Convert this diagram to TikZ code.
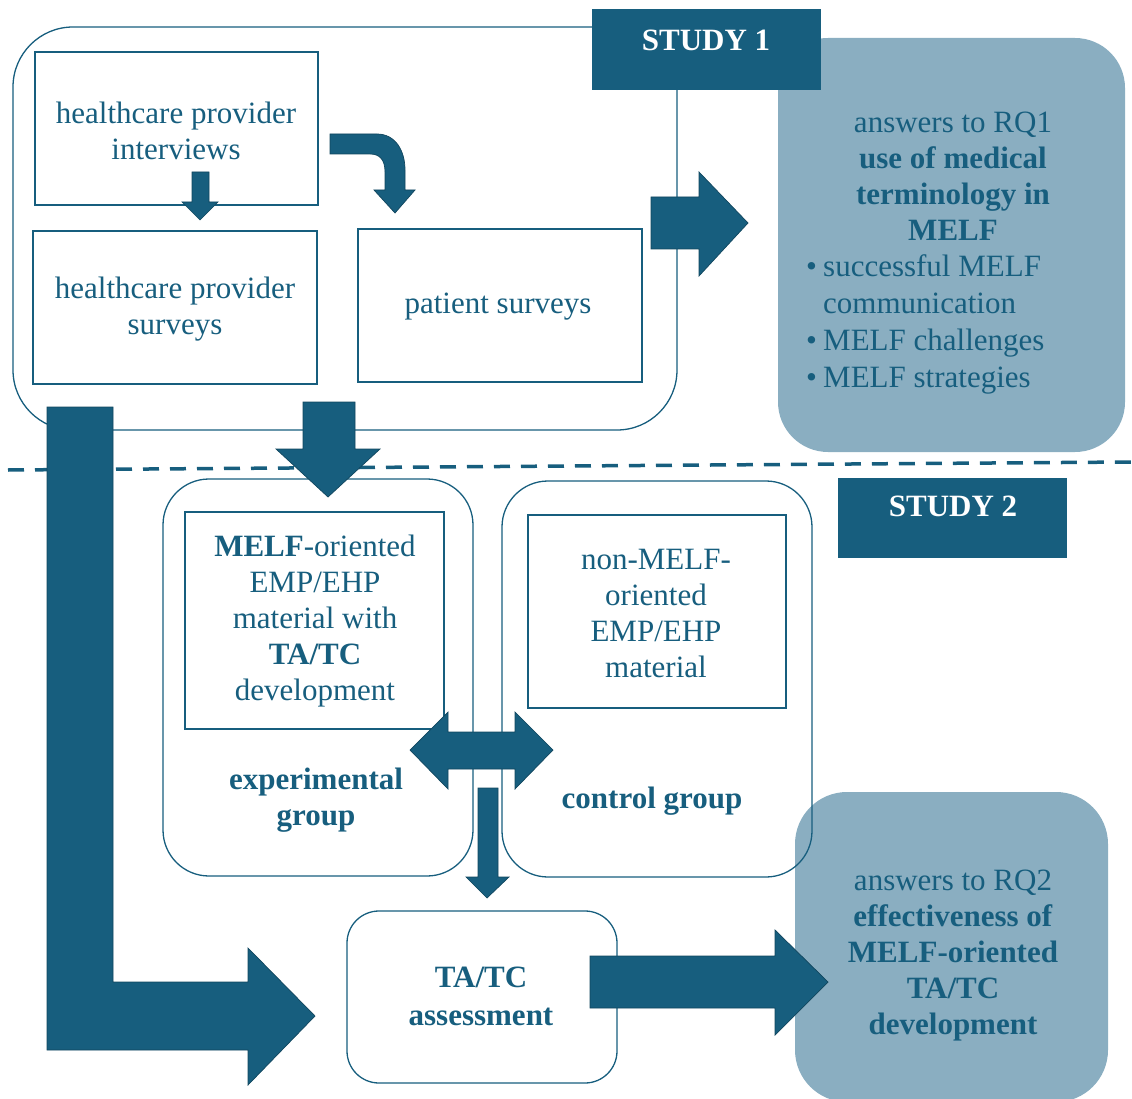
\documentclass[tikz,border=0pt]{standalone}
\usepackage{fontspec}
\setmainfont{Liberation Serif}
\definecolor{dk}{HTML}{175E7E}
\definecolor{lt}{HTML}{8AAEC1}
\newcommand{\bul}{\makebox[17pt][l]{\textbullet}}
\tikzset{
  box/.style={draw=dk, line width=1.3pt, text=dk, align=center, inner sep=0pt},
  lbox/.style={fill=lt, draw=none, text=dk, align=center, inner sep=0pt},
  tagbox/.style={fill=dk, draw=none, text=white, inner sep=0pt, font=\fontsize{31}{36}\selectfont\bfseries},
  txt/.style={text=dk, align=center, inner sep=0pt},
  blk/.style={fill=dk, draw=dk!75!black, line width=0.7pt, line join=miter},
}
\begin{document}
\begin{tikzpicture}[x=1pt,y=-1pt,font=\fontsize{31}{36}\selectfont]
\useasboundingbox (0,0) rectangle (1132,1099);
\clip (0,0) rectangle (1132,1099);

% ---- Study 1 frame
\node[box, rounded corners=60pt, minimum width=664pt, minimum height=403pt] (s1) at (345,228.5) {};

% RQ1 box
\node[lbox, rounded corners=50pt, minimum width=347pt, minimum height=414pt] (rq1) at (951.5,245) {};
\node[txt] (rq1h) at (953,176) {answers to RQ1\\\textbf{use of medical}\\\textbf{terminology in}\\\textbf{MELF}};
\node[txt, align=left, anchor=west, font=\fontsize{31}{37}\selectfont] (rq1b) at (806,324) {\bul successful MELF\\\hspace*{17pt}communication\\\bul MELF challenges\\\bul MELF strategies};

\node[tagbox, minimum width=229pt, minimum height=81pt] (tag1) at (706.5,49.5) {};
\node[text=white, inner sep=0pt, font=\fontsize{31}{36}\selectfont\bfseries] (tag1t) at (706,40) {STUDY 1};

\node[box, minimum width=283pt, minimum height=153pt] (hpi) at (176.5,128.5) {};
\node[txt] (hpit) at (176,131) {healthcare provider\\interviews};
\node[box, minimum width=284pt, minimum height=153pt] (hps) at (175,307.5) {};
\node[txt] (hpst) at (175,309) {healthcare provider\\surveys};
\node[box, minimum width=284pt, minimum height=153pt] (ps) at (500,305.5) {};
\node[txt] (pst) at (498,307) {patient surveys};

% small arrows
\draw[blk] (192,172) -- (209,172) -- (209,202) -- (218,202) -- (200,220) -- (182,202) -- (192,202) -- cycle;
\draw[blk] (330,134) -- (377,134) .. controls (395,134) and (405,150) .. (405,170) -- (405,190) -- (415,190) -- (395,213) -- (374,190) -- (385,190) -- (385,172) .. controls (385,160) and (380,154) .. (370,154) -- (330,154) -- cycle;

% big right arrow to RQ1
\draw[blk] (651,197) -- (699,197) -- (699,172) -- (748,223) -- (699,276) -- (699,249) -- (651,249) -- cycle;

% dashed separator
\draw[dk, line width=3.5pt, dash pattern=on 16pt off 11pt] (8,470) -- (1132,462);

% ---- Study 2
\node[tagbox, minimum width=229pt, minimum height=80pt] (tag2) at (952.5,518) {};
\node[text=white, inner sep=0pt, font=\fontsize{31}{36}\selectfont\bfseries] (tag2t) at (953,506) {STUDY 2};

\node[lbox, rounded corners=52pt, minimum width=313pt, minimum height=310pt] (rq2) at (951.5,947) {};
\node[txt] (rq2t) at (953,955.5) {answers to RQ2\\\textbf{effectiveness of}\\\textbf{MELF-oriented}\\\textbf{TA/TC}\\\textbf{development}};

\node[box, rounded corners=46pt, minimum width=310pt, minimum height=397pt] (exp) at (318,677.5) {};
\node[box, rounded corners=46pt, minimum width=310pt, minimum height=396pt] (ctl) at (657,679) {};
\node[box, minimum width=259pt, minimum height=217pt] (melf) at (314.5,620.5) {};
\node[txt] (melft) at (315,621) {\textbf{MELF}-oriented\\EMP/EHP\\material with\\\textbf{TA/TC}\\development};
\node[box, minimum width=258pt, minimum height=193pt] (nmelf) at (657,611.5) {};
\node[txt] (nmelft) at (656,613) {non-MELF-\\oriented\\EMP/EHP\\material};
\node[txt, font=\fontsize{31}{36}\selectfont\bfseries] (expt) at (316,800) {experimental\\group};
\node[txt, font=\fontsize{31}{36}\selectfont\bfseries] (ctlt) at (652,801) {control group};

\node[box, rounded corners=32pt, minimum width=270pt, minimum height=172pt] (ta) at (482,997) {};
\node[txt, font=\fontsize{31}{38}\selectfont\bfseries] (tat) at (481,996) {TA/TC\\assessment};

% arrows of study 2
\draw[blk] (303,402) -- (355,402) -- (355,449) -- (380,449) -- (328,497) -- (276,449) -- (303,449) -- cycle;
\draw[blk] (47,407) -- (113,407) -- (113,982) -- (248,982) -- (248,948) -- (315,1016) -- (248,1085) -- (248,1050) -- (47,1050) -- cycle;
\draw[blk] (410,750) -- (448,712) -- (448,732) -- (515,732) -- (515,712) -- (553,750) -- (515,789) -- (515,769) -- (448,769) -- (448,789) -- cycle;
\draw[blk] (478,788) -- (498,788) -- (498,877) -- (509,877) -- (487,898) -- (466,877) -- (478,877) -- cycle;
\draw[blk] (590,956) -- (775,956) -- (775,930) -- (828,982) -- (775,1035) -- (775,1008) -- (590,1008) -- cycle;
\end{tikzpicture}
\end{document}
